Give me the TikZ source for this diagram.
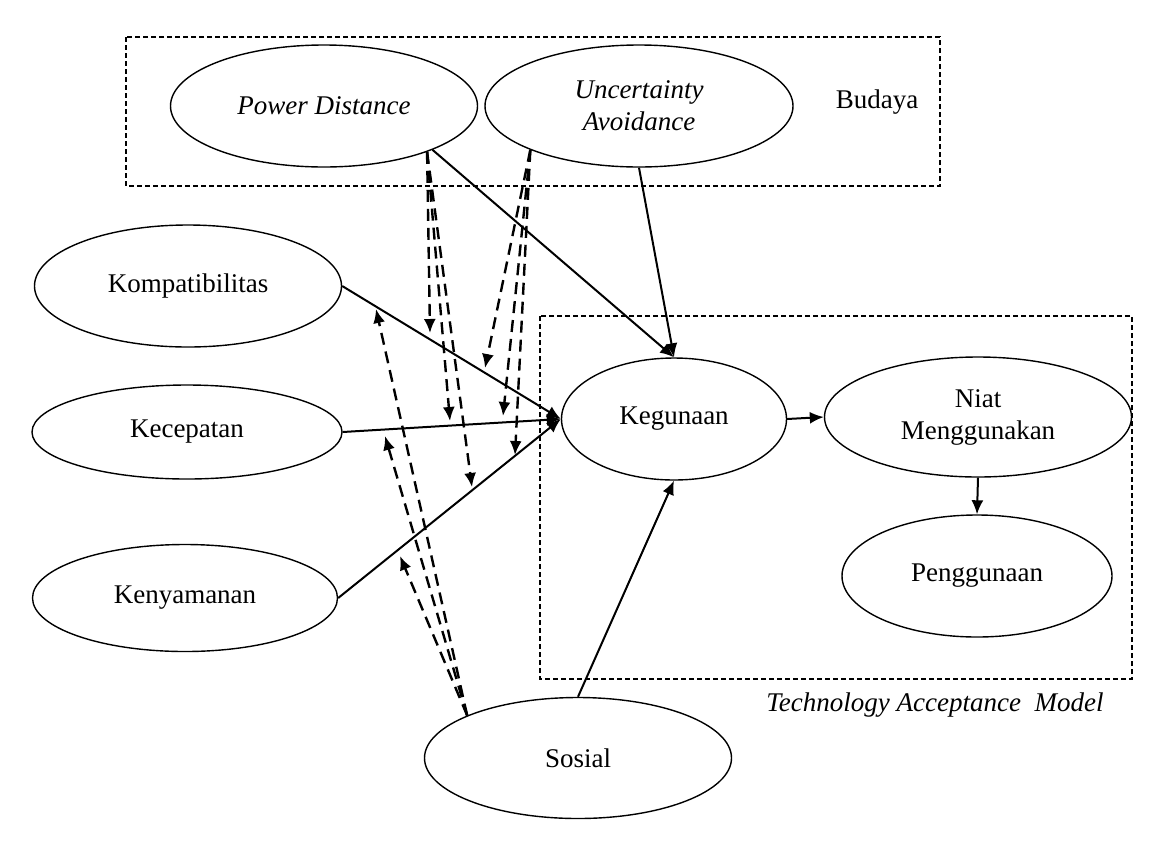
\documentclass[tikz,border=0pt]{standalone}
\usepackage{fontspec}
\setmainfont{Liberation Serif}
\usetikzlibrary{arrows.meta}
\usetikzlibrary{shapes.geometric}

\begin{document}
\begin{tikzpicture}[x=0.5pt,y=-0.5pt,
    konstruk/.style={draw,ellipse,line width=0.7pt,inner sep=0pt,align=center,font=\fontsize{13.5}{16}\selectfont},
    kotak/.style={line width=1.1pt,dash pattern=on 2.4pt off 1.6pt},
    panah/.style={-{Latex[length=7pt,width=6pt]},line width=1pt},
    moderasi/.style={-{Latex[length=7pt,width=6pt]},line width=1.2pt,dash pattern=on 6pt off 3.5pt}]

    \useasboundingbox (0,0) rectangle (1168,842);

    % kotak budaya dan TAM
    \draw[kotak] (126,37) rectangle (940,186);
    \draw[kotak] (540,316) rectangle (1132,679);
    \node[font=\fontsize{13.5}{16}\selectfont] (budaya) at (877,102) {Budaya};
    \node[font=\fontsize{13.5}{16}\selectfont\itshape] (tam) at (935,705) {Technology Acceptance\ \ Model};

    % konstruk
    \node[konstruk,minimum width=153.5pt,minimum height=61pt,font=\fontsize{13.5}{16}\selectfont\itshape] (pd) at (324,106) {Power Distance};
    \node[konstruk,minimum width=154pt,minimum height=61pt,font=\fontsize{13.5}{16}\selectfont\itshape] (ua) at (639,106) {Uncertainty\\Avoidance};
    \node[konstruk,minimum width=153.5pt,minimum height=61pt] (komp) at (188,286) {Kompatibilitas};
    \node[konstruk,minimum width=155pt,minimum height=47pt] (kec) at (187,432) {Kecepatan};
    \node[konstruk,minimum width=152.5pt,minimum height=53.5pt] (keny) at (185,598) {Kenyamanan};
    \node[konstruk,minimum width=112.5pt,minimum height=61pt] (keg) at (674,419) {Kegunaan};
    \node[konstruk,minimum width=153.5pt,minimum height=60pt] (niat) at (978,417) {Niat\\Menggunakan};
    \node[konstruk,minimum width=135pt,minimum height=61pt] (peng) at (977,576) {Penggunaan};
    \node[konstruk,minimum width=153.5pt,minimum height=60.5pt] (sos) at (578,758) {Sosial};

    % ujung panah moderasi
    \coordinate (pdkomp) at (430,333);
    \coordinate (pdkec) at (450,421);
    \coordinate (pdkeny) at (472,487);
    \coordinate (uakomp) at (485,368);
    \coordinate (uakec) at (503,416);
    \coordinate (uakeny) at (515,455);
    \coordinate (soskomp) at (376,309);
    \coordinate (soskec) at (385,436);
    \coordinate (soskeny) at (400,556);

    % hubungan langsung
    \draw[panah] (komp.east) -- (keg.west);
    \draw[panah] (kec.east) -- (keg.west);
    \draw[panah] (keny.east) -- (keg.west);
    \draw[panah] (pd.-22) -- (keg.north);
    \draw[panah] (ua.south) -- (keg.north);
    \draw[panah] (sos.north) -- (keg.south);
    \draw[panah] (keg.east) -- (niat.west);
    \draw[panah] (niat.south) -- (peng.north);

    % moderasi
    \draw[moderasi] (pd.-24) -- (pdkomp);
    \draw[moderasi] (pd.-24) -- (pdkec);
    \draw[moderasi] (pd.-24) -- (pdkeny);
    \draw[moderasi] (ua.202) -- (uakomp);
    \draw[moderasi] (ua.202) -- (uakec);
    \draw[moderasi] (ua.202) -- (uakeny);
    \draw[moderasi] (sos.159) -- (soskomp);
    \draw[moderasi] (sos.159) -- (soskec);
    \draw[moderasi] (sos.159) -- (soskeny);
\end{tikzpicture}
\end{document}
